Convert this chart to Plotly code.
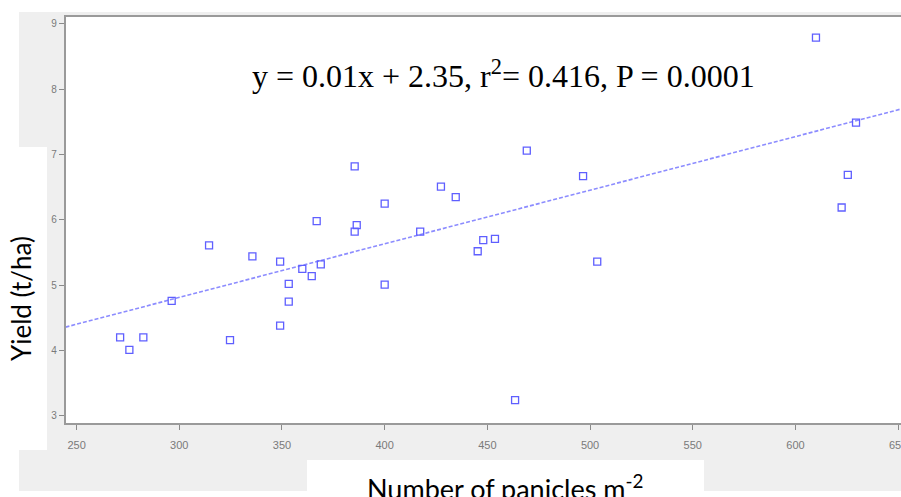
import plotly.graph_objects as go

# ---- data ----
panicles = [271.2, 275.7, 282.5, 296.3, 314.5, 324.7, 335.6, 349.1, 349.1, 353.3,
            353.3, 359.9, 364.5, 366.9, 368.9, 385.4, 385.4, 386.4, 400.0, 400.0,
            417.3, 427.4, 434.6, 445.3, 448.0, 453.7, 463.5, 469.2, 496.6, 503.5,
            610.0, 622.5, 625.5, 629.5]
yield_tha = [4.20, 4.01, 4.20, 4.76, 5.61, 4.16, 5.44, 5.36, 4.38, 5.02,
             4.75, 5.25, 5.14, 5.98, 5.32, 6.82, 5.82, 5.92, 6.25, 5.01,
             5.82, 6.51, 6.35, 5.52, 5.69, 5.71, 3.24, 7.06, 6.67, 5.36,
             8.79, 6.19, 6.69, 7.49]

fit_slope = 0.00821
fit_intercept = 2.35

x_ticks = [250, 300, 350, 400, 450, 500, 550, 600, 650]
y_ticks = [3, 4, 5, 6, 7, 8, 9]
edge_tick = 650  # tick label cut by the right edge of the picture

x_range = [244.6, 651.4]
y_range = [2.89, 9.107]

equation_text = "y = 0.01x + 2.35, r<sup>2</sup>= 0.416, P = 0.0001"
x_title = "Number of panicles m<sup>-2</sup>"
y_title = "Yield (t/ha)"

W, H = 901, 497


def px(x):
    return x / W


def py(y):
    return 1 - y / H


fit_x = list(x_range)
fit_y = [fit_intercept + fit_slope * v for v in fit_x]

tick_font = dict(family="Liberation Sans", size=11, color="#7a7a7a")

fig = go.Figure()
fig.add_trace(go.Scatter(
    x=fit_x, y=fit_y, mode="lines",
    line=dict(color="#8c8cff", width=1.6, dash="4px,2px"),
    hoverinfo="skip", showlegend=False, cliponaxis=True))
fig.add_trace(go.Scatter(
    x=panicles, y=yield_tha, mode="markers",
    marker=dict(symbol="square-open", size=7, color="#5f5fff",
                line=dict(width=1.3, color="#5f5fff")),
    showlegend=False, cliponaxis=False))

shapes = [
    # gray chart background
    dict(type="rect", xref="paper", yref="paper", x0=px(19), x1=px(901),
         y0=py(491), y1=py(12), fillcolor="#efefef", line=dict(width=0), layer="below"),
    # white plot area
    dict(type="rect", xref="paper", yref="paper", x0=px(65.5), x1=px(901),
         y0=py(423), y1=py(17), fillcolor="#ffffff", line=dict(width=0), layer="below"),
    # white box behind y title
    dict(type="rect", xref="paper", yref="paper", x0=px(0), x1=px(47),
         y0=py(450), y1=py(147), fillcolor="#ffffff", line=dict(width=0), layer="below"),
    # white box behind x title
    dict(type="rect", xref="paper", yref="paper", x0=px(307), x1=px(704),
         y0=py(497), y1=py(460), fillcolor="#ffffff", line=dict(width=0), layer="below"),
]

annotations = [
    dict(text=equation_text, xref="paper", yref="paper", x=px(503), y=py(74),
         xanchor="center", yanchor="middle", showarrow=False,
         font=dict(family="Liberation Serif", size=32, color="#000000")),
    dict(text=x_title, xref="paper", yref="paper", x=px(505), y=py(467),
         xanchor="center", yanchor="top", showarrow=False,
         font=dict(family="Lato", size=27, color="#000000")),
    dict(text=y_title, xref="paper", yref="paper", x=px(21), y=py(299),
         xanchor="center", yanchor="middle", showarrow=False, textangle=-90,
         font=dict(family="Lato", size=26, color="#000000")),
    dict(text=str(edge_tick), xref="x", yref="paper", x=edge_tick, y=py(445),
         xanchor="center", yanchor="middle", showarrow=False, font=tick_font),
]

fig.update_layout(
    width=W, height=H, autosize=False,
    margin=dict(l=0, r=0, t=0, b=0, pad=0),
    paper_bgcolor="#ffffff", plot_bgcolor="#ffffff",
    shapes=shapes, annotations=annotations,
    xaxis=dict(domain=[px(65.5), 1.0], range=x_range, tickvals=x_ticks,
               ticks="outside", ticklen=5, tickwidth=1, tickcolor="#8a8a8a",
               showline=True, linecolor="#9a9a9a", linewidth=1.5, mirror=True,
               showgrid=False, zeroline=False, ticklabelstandoff=6,
               automargin=False, tickfont=tick_font),
    yaxis=dict(domain=[py(423), py(17)], range=y_range, tickvals=y_ticks,
               ticks="outside", ticklen=5, tickwidth=1, tickcolor="#8a8a8a",
               showline=True, linecolor="#9a9a9a", linewidth=1.5,
               showgrid=False, zeroline=False, automargin=False,
               tickfont=dict(family="Liberation Sans", size=10, color="#7a7a7a")),
)

fig.write_html(
    "out.html",
    config={"displayModeBar": False},
    post_script="document.body.style.margin='0';document.body.style.overflow='hidden';",
)
